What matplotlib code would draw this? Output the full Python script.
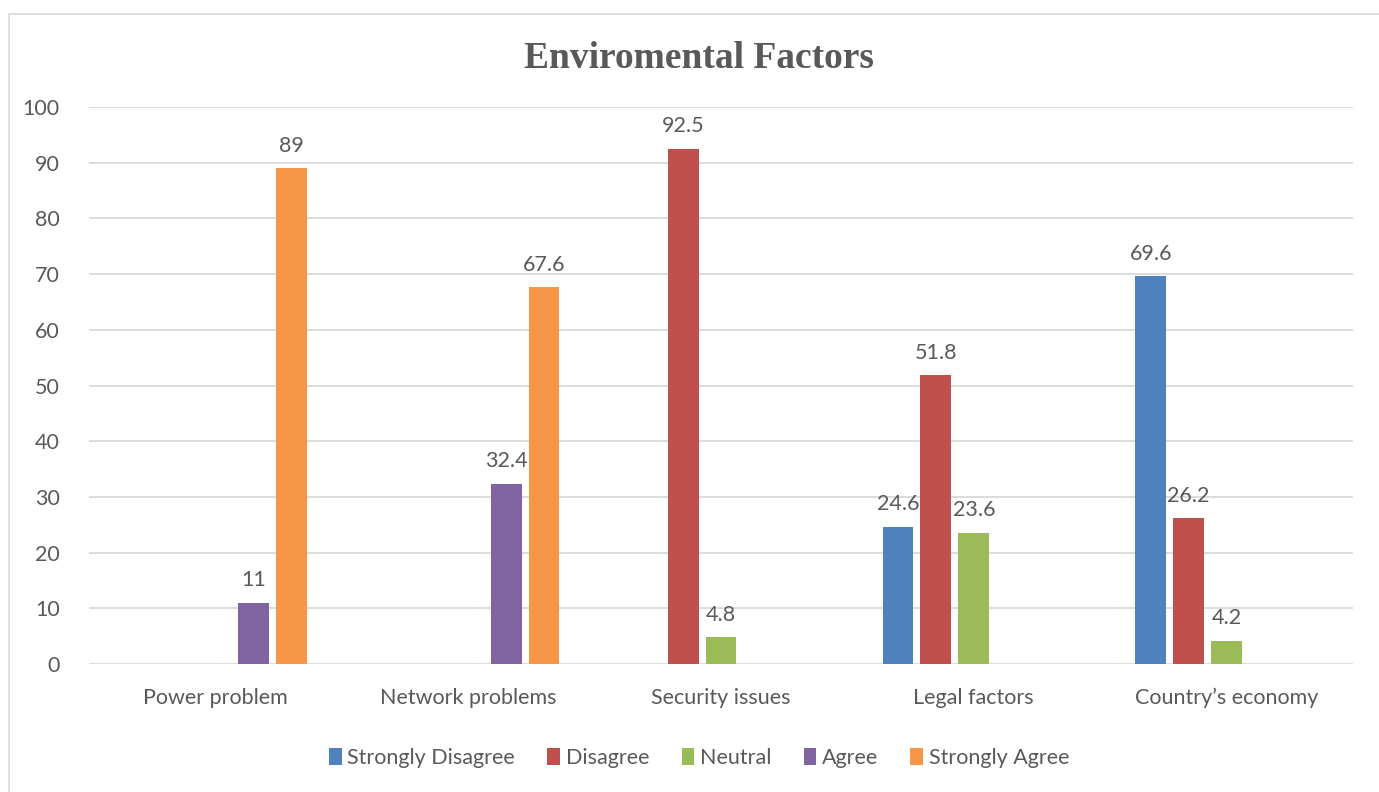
import matplotlib
matplotlib.use("Agg")
import matplotlib.pyplot as plt
import numpy as np
from matplotlib.patches import Rectangle, Patch

categories = ["Power problem", "Network problems", "Security issues", "Legal factors", "Country\u2019s economy"]
series_names = ["Strongly Disagree", "Disagree", "Neutral", "Agree", "Strongly Agree"]
strongly_disagree = [None, None, None, 24.6, 69.6]
disagree = [None, None, 92.5, 51.8, 26.2]
neutral = [None, None, 4.8, 23.6, 4.2]
agree = [11, 32.4, None, None, None]
strongly_agree = [89, 67.6, None, None, None]
yticks = [0, 10, 20, 30, 40, 50, 60, 70, 80, 90, 100]
title = "Enviromental Factors"

colors = ["#4F81BD", "#C0504D", "#9BBB59", "#8064A2", "#F79646"]
all_series = [strongly_disagree, disagree, neutral, agree, strongly_agree]

plt.rcParams['font.family'] = ['Lato', 'DejaVu Sans']
text_color = "#595959"
grid_color = "#D9D9D9"
fs = 15.5

fig = plt.figure(figsize=(13.79, 7.92), dpi=100)
fig.patches.append(Rectangle((9/1379, -0.1), 1.2, 1.1 - 14/792, transform=fig.transFigure,
                             fill=False, edgecolor=grid_color, linewidth=1.2))
ax = fig.add_axes([89/1379, (792-664)/792, (1353-89)/1379, (664-107)/792])

x = np.arange(len(categories))
step = 0.15
width = 0.122
for i, (vals, col) in enumerate(zip(all_series, colors)):
    v = np.array([np.nan if a is None else a for a in vals], dtype=float)
    bars = ax.bar(x + (i - 2) * step, v, width=width, color=col, zorder=3)
    labels = ["" if a is None else f"{a:g}" for a in vals]
    ax.bar_label(bars, labels=labels, padding=9, fontsize=fs, color=text_color)

ax.set_xlim(-0.5, len(categories) - 0.5)
ax.set_ylim(0, 100)
ax.set_yticks(yticks)
ax.set_xticks(x)
ax.set_xticklabels(categories)
ax.yaxis.grid(True, color=grid_color, linewidth=1.3, zorder=0)
for s in ax.spines.values():
    s.set_visible(False)
ax.tick_params(axis='both', length=0, labelsize=fs, colors=text_color)
ax.tick_params(axis='y', pad=21)
ax.tick_params(axis='x', pad=17)

fig.text(0.507, (792-58)/792, title, ha='center', va='center', fontsize=27,
         fontweight='bold', color=text_color, family='Liberation Serif')

handles = [Patch(facecolor=c, edgecolor='none') for c in colors]
leg = fig.legend(handles, series_names, loc='center', bbox_to_anchor=(0.507, (792-758)/792),
                 ncol=5, frameon=False, fontsize=fs, handlelength=0.6, handleheight=0.8,
                 handletextpad=0.25, columnspacing=1.5, labelcolor=text_color)

fig.savefig("out.png", dpi=100, facecolor='white')
